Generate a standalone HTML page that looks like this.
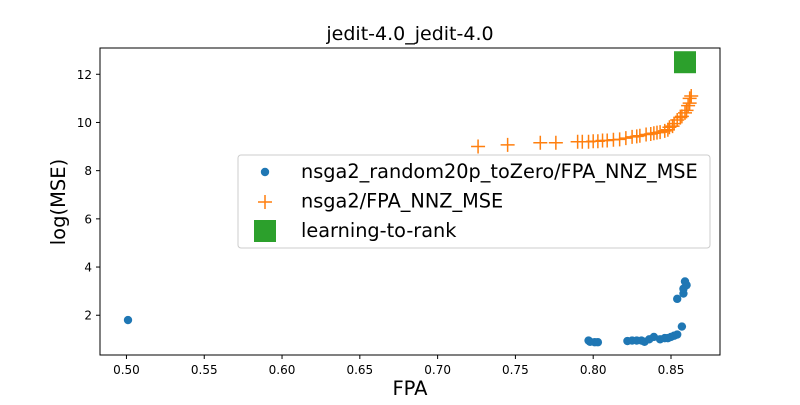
<!DOCTYPE html>
<html><head><meta charset="utf-8"><style>
body{margin:0;background:#fff;}
svg{font-family:"DejaVu Sans","Liberation Sans",sans-serif;}
</style></head><body>
<svg id="chart" width="800" height="400">
<rect width="800" height="400" fill="#fff"/>
<text x="410" y="40" text-anchor="middle" font-size="19">jedit-4.0_jedit-4.0</text>
<text x="410" y="395" text-anchor="middle" font-size="19.5">FPA</text>
<text transform="translate(65,202) rotate(-90)" text-anchor="middle" font-size="19.5">log(MSE)</text>
<g id="marks"></g>
<g id="axes"></g>
</svg>
<script>
const xTicks=[0.50,0.55,0.60,0.65,0.70,0.75,0.80,0.85];
const yTicks=[2,4,6,8,10,12];
const blueX=[0.501,0.797,0.798,0.801,0.803,0.822,0.825,0.828,0.831,0.833,0.836,0.839,0.843,0.846,0.848,0.850,0.852,0.854,0.857,0.854,0.858,0.858,0.860,0.859];
const blueY=[1.8,0.95,0.9,0.88,0.88,0.93,0.95,0.95,0.95,0.9,1.0,1.1,1.0,1.05,1.05,1.1,1.15,1.2,1.53,2.68,2.9,3.1,3.25,3.4];
const orangeX=[0.726,0.745,0.766,0.776,0.790,0.793,0.797,0.800,0.803,0.806,0.809,0.813,0.817,0.821,0.825,0.828,0.830,0.834,0.837,0.839,0.841,0.843,0.846,0.848,0.849,0.851,0.852,0.854,0.856,0.857,0.859,0.860,0.861,0.862,0.862,0.863];
const orangeY=[9.0,9.07,9.16,9.16,9.2,9.2,9.2,9.22,9.22,9.25,9.25,9.28,9.3,9.35,9.4,9.42,9.45,9.5,9.52,9.55,9.58,9.6,9.65,9.7,9.8,9.85,9.95,10.1,10.2,10.25,10.4,10.5,10.7,10.8,11.0,11.1];
const ltrX=[0.859];
const ltrY=[12.5];
const L=100,R=720,T=48,B=355;
const xMin=0.483,xMax=0.8815,yMin=0.35,yMax=13.09;
const sx=v=>L+(v-xMin)/(xMax-xMin)*(R-L);
const sy=v=>B-(v-yMin)/(yMax-yMin)*(B-T);
const NS="http://www.w3.org/2000/svg";
const marks=document.getElementById('marks'),axes=document.getElementById('axes');
function mk(tag,attrs,parent){const e=document.createElementNS(NS,tag);for(const k in attrs)e.setAttribute(k,attrs[k]);parent.appendChild(e);return e;}
blueX.forEach((x,i)=>{const c=mk('circle',{cx:sx(x),cy:sy(blueY[i]),r:4.2,fill:'#1f77b4'},marks);

});
orangeX.forEach((x,i)=>{const px=sx(x),py=sy(orangeY[i]);const p=mk('path',{d:`M${px-7},${py}H${px+7}M${px},${py-7}V${py+7}`,stroke:'#ff7f0e','stroke-width':1.5,fill:'none'},marks);

});
ltrX.forEach((x,i)=>{const s=mk('rect',{x:sx(x)-11,y:sy(ltrY[i])-11,width:22,height:22,fill:'#2ca02c'},marks);

});
const fr=mk('rect',{x:L,y:T,width:R-L,height:B-T,fill:'none',stroke:'#000','stroke-width':1},axes);


xTicks.forEach(v=>{const x=sx(v);mk('line',{x1:x,x2:x,y1:B,y2:B+4,stroke:'#000'},axes);
const t=mk('text',{x:x,y:B+19,'text-anchor':'middle','font-size':12},axes);t.textContent=v.toFixed(2);

});
yTicks.forEach(v=>{const y=sy(v);mk('line',{x1:L-4,x2:L,y1:y,y2:y,stroke:'#000'},axes);
const t=mk('text',{x:L-8,y:y+4.5,'text-anchor':'end','font-size':12},axes);t.textContent=v;

});
const lg=mk('g',{},axes);


mk('rect',{x:238,y:155,width:472,height:93,rx:3,fill:'#fff','fill-opacity':0.8,stroke:'#ccc'},lg);
mk('circle',{cx:265,cy:172,r:4.2,fill:'#1f77b4'},lg);
mk('path',{d:'M258,202H272M265,195V209',stroke:'#ff7f0e','stroke-width':1.5},lg);
mk('rect',{x:254,y:220,width:22,height:22,fill:'#2ca02c'},lg);
const labels=['nsga2_random20p_toZero/FPA_NNZ_MSE','nsga2/FPA_NNZ_MSE','learning-to-rank'];
labels.forEach((s,i)=>{const t=mk('text',{x:301,y:178+i*29.5,'font-size':19.3},lg);t.textContent=s;

});
</script>
</body></html>
